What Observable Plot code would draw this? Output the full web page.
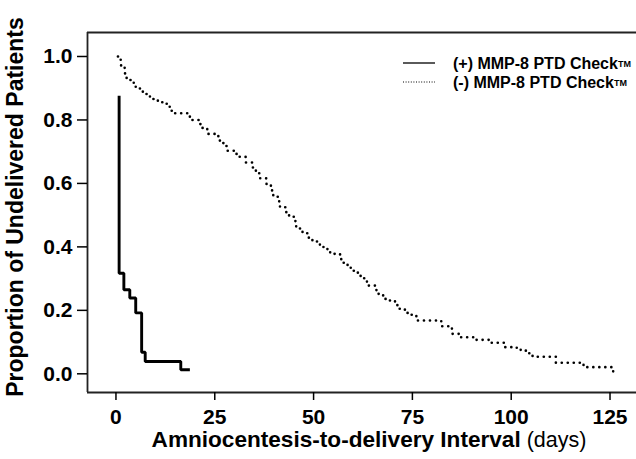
<!DOCTYPE html>
<html>
<head>
<meta charset="utf-8">
<script src="https://cdn.jsdelivr.net/npm/d3@7"></script>
<script src="https://cdn.jsdelivr.net/npm/@observablehq/plot@0.6"></script>
<style>
  html, body { margin: 0; padding: 0; background: #fff; }
  #chart { width: 636px; height: 459px; }
</style>
</head>
<body>
<div id="chart"></div>
<script>
// (+) MMP-8 PTD Check — Kaplan-Meier step curve
const posDays = [0.8, 0.8, 2.0, 3.5, 5.0, 6.5, 7.4, 16.4, 18.7];
const posSurv = [0.876, 0.317, 0.265, 0.239, 0.192, 0.068, 0.039, 0.013, 0.013];

// (-) MMP-8 PTD Check — Kaplan-Meier step curve
const negDays = [0.5, 1.2, 1.3, 2.2, 2.3, 2.7, 4.5, 5.0, 6.8, 8.6, 10.6, 12.2, 13.3, 13.6, 14.5, 18.7,
  21.1, 21.5, 23.1, 25.9, 26.9, 27.9, 28.0, 29.9, 31.0, 32.8, 34.5, 35.4, 36.2, 36.5, 38.1, 39.2,
  39.5, 39.8, 40.9, 41.3, 41.5, 43.1, 43.8, 45.4, 45.6, 47.2, 48.8, 49.7, 51.6, 52.5, 53.5, 54.2,
  56.7, 57.0, 58.6, 59.4, 61.2, 61.9, 63.3, 63.5, 65.7, 65.9, 67.6, 68.7, 70.6, 71.2, 73.1, 74.3,
  76.0, 82.3, 84.9, 85.0, 87.2, 91.0, 95.0, 98.4, 101.4, 102.4, 104.5, 105.4, 111.3, 118.3, 125.8];
const negSurv = [1.0, 0.981, 0.965, 0.958, 0.941, 0.926, 0.912, 0.899, 0.882, 0.866, 0.856, 0.851, 0.847, 0.829, 0.821, 0.800,
  0.787, 0.775, 0.756, 0.735, 0.727, 0.718, 0.703, 0.693, 0.684, 0.666, 0.650, 0.638, 0.632, 0.616, 0.598, 0.591,
  0.577, 0.561, 0.558, 0.543, 0.525, 0.509, 0.495, 0.477, 0.458, 0.443, 0.427, 0.417, 0.401, 0.394, 0.388, 0.378,
  0.367, 0.350, 0.336, 0.325, 0.312, 0.301, 0.297, 0.278, 0.270, 0.252, 0.236, 0.231, 0.217, 0.205, 0.192, 0.186,
  0.168, 0.150, 0.144, 0.126, 0.115, 0.107, 0.098, 0.084, 0.080, 0.073, 0.065, 0.054, 0.035, 0.021, 0.003];

const xTicks = [0, 25, 50, 75, 100, 125];
const yTicks = [0.0, 0.2, 0.4, 0.6, 0.8, 1.0];
const seriesLabels = ["(+) MMP-8 PTD Check", "(-) MMP-8 PTD Check"];
const xTitle = "Amniocentesis-to-delivery Interval";
const xUnit = " (days)";
const yTitle = "Proportion of Undelivered Patients";

const pos = posDays.map((d, i) => ({day: d, p: posSurv[i]}));
const neg = negDays.map((d, i) => ({day: d, p: negSurv[i]}));

const xDomain = [-7.2, 131.7];
const yDomain = [-0.0589, 1.0756];
const FONT = "'Liberation Sans', Arial, Helvetica, sans-serif";

const plot = Plot.plot({
  width: 636,
  height: 459,
  marginLeft: 87,
  marginRight: 0,
  marginTop: 32,
  marginBottom: 67,
  style: {fontFamily: FONT, fontSize: "21px", fontWeight: "bold", color: "#000", background: "#fff", overflow: "visible"},
  x: {domain: xDomain},
  y: {domain: yDomain},
  marks: [
    Plot.ruleX([xDomain[0]], {stroke: "#222", strokeWidth: 1.8}),
    Plot.ruleY([yDomain[0]], {stroke: "#222", strokeWidth: 1.8}),
    Plot.ruleY([yDomain[1]], {stroke: "#222", strokeWidth: 1.8}),
    Plot.axisX({ticks: xTicks, tickSize: 8, tickPadding: 9, tickFormat: d => String(d), label: null, strokeWidth: 1.5}),
    Plot.axisY({ticks: yTicks, tickSize: 10, tickPadding: 5, tickFormat: d => d.toFixed(1), label: null, strokeWidth: 1.5}),
    Plot.line(neg, {x: "day", y: "p", curve: "step-after", stroke: "#000", strokeWidth: 2.6,
      strokeLinecap: "round", strokeDasharray: "0.1,5.9"}),
    Plot.line(pos, {x: "day", y: "p", curve: "step-after", stroke: "#000", strokeWidth: 2.9,
      strokeLinejoin: "miter", strokeLinecap: "butt"})
  ]
});

document.getElementById("chart").appendChild(plot);

const svg = d3.select(plot);

// Axis titles
const xt = svg.append("text")
  .attr("x", 369).attr("y", 447)
  .attr("text-anchor", "middle")
  .attr("font-family", FONT)
  .attr("font-size", 22.6)
  .attr("font-weight", "bold")
  .attr("fill", "#000");
xt.append("tspan").text(xTitle);
xt.append("tspan").attr("font-weight", "normal").attr("font-size", 21.5).text(xUnit);

svg.append("text")
  .attr("transform", "translate(23,207) rotate(-90)")
  .attr("text-anchor", "middle")
  .attr("font-family", FONT)
  .attr("font-size", 23)
  .attr("font-weight", "bold")
  .attr("fill", "#000")
  .text(yTitle);

// Legend
const legendRows = [
  {label: seriesLabels[0], dash: null, y: 63},
  {label: seriesLabels[1], dash: "1,1.6", y: 82}
];
const lg = svg.append("g").attr("font-family", FONT).attr("font-weight", "bold");
legendRows.forEach(r => {
  lg.append("line")
    .attr("x1", 403).attr("x2", 435).attr("y1", r.y).attr("y2", r.y)
    .attr("stroke", "#000").attr("stroke-width", r.dash ? 1 : 1.3)
    .attr("stroke-dasharray", r.dash);
  const t = lg.append("text").attr("x", 453).attr("y", r.y + 5.5)
    .attr("text-anchor", "start")
    .attr("font-size", 16).attr("fill", "#000");
  t.append("tspan").text(r.label);
  t.append("tspan").attr("font-size", 9).attr("dy", -1.5).text("TM");
});
</script>
</body>
</html>
